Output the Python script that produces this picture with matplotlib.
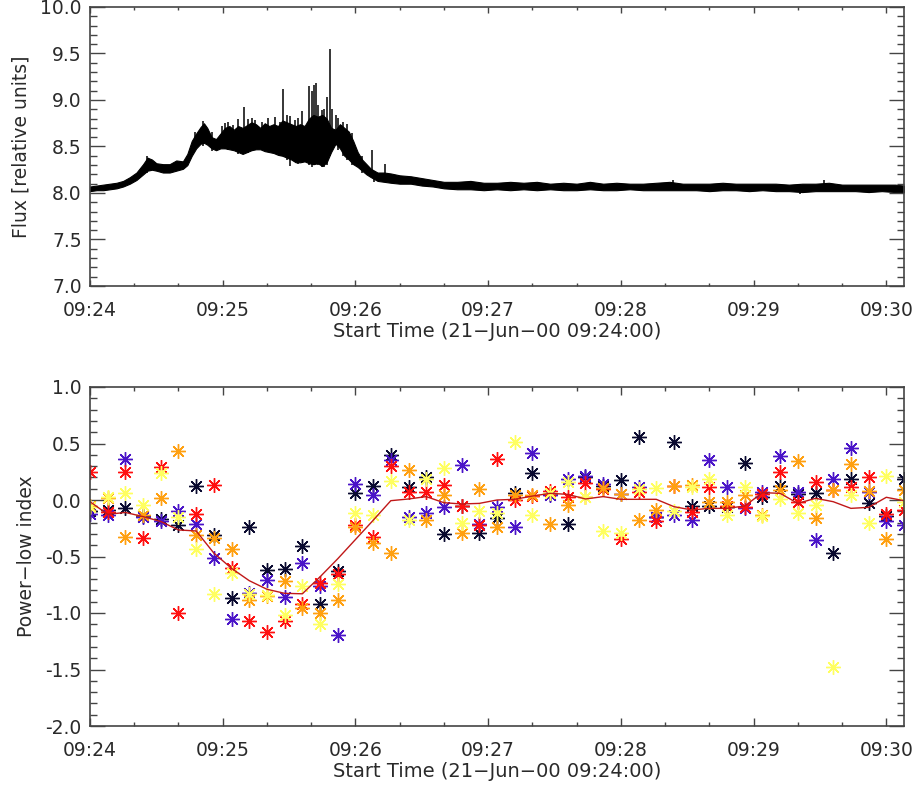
import matplotlib
matplotlib.use("Agg")
import matplotlib.pyplot as plt
from matplotlib.ticker import MultipleLocator, FixedLocator, FormatStrFormatter

# ---------------- Top panel: flux envelope ----------------
env_t = [0, 3, 6, 9, 12, 15, 18, 21, 24, 26, 28, 30, 33, 36, 39, 42, 44, 46, 48, 50,
         51.5, 53, 55, 57, 59, 61, 63, 65, 67, 69, 71, 73, 75, 77, 79, 81, 83, 85, 87,
         89, 91, 93, 95, 97, 99, 101, 103, 105, 107, 109, 111, 113, 115, 117, 119, 121,
         123, 125, 127, 130, 133, 136, 140, 145, 150, 155, 160, 166, 172, 178, 184, 190,
         196, 202, 208, 214, 220, 226, 232, 238, 244, 250, 256, 262, 268, 274, 280, 286,
         292, 298, 304, 310, 316, 322, 328, 334, 340, 346, 352, 358, 364, 368]
env_low = [8.02, 8.03, 8.03, 8.04, 8.05, 8.07, 8.10, 8.14, 8.20, 8.24, 8.25, 8.24, 8.22,
           8.22, 8.24, 8.26, 8.30, 8.40, 8.48, 8.53, 8.54, 8.52, 8.48, 8.46, 8.48, 8.48,
           8.47, 8.46, 8.44, 8.42, 8.44, 8.46, 8.47, 8.47, 8.45, 8.44, 8.43, 8.41, 8.40,
           8.38, 8.36, 8.33, 8.33, 8.34, 8.32, 8.31, 8.32, 8.29, 8.33, 8.44, 8.53, 8.48,
           8.40, 8.36, 8.31, 8.28, 8.24, 8.20, 8.17, 8.13, 8.12, 8.11, 8.10, 8.10, 8.08,
           8.07, 8.05, 8.04, 8.04, 8.03, 8.04, 8.03, 8.04, 8.03, 8.04, 8.03, 8.03, 8.04,
           8.03, 8.03, 8.04, 8.03, 8.03, 8.03, 8.03, 8.03, 8.02, 8.03, 8.03, 8.02, 8.03,
           8.02, 8.02, 8.01, 8.02, 8.02, 8.02, 8.02, 8.01, 8.02, 8.01, 8.01]
env_high = [8.07, 8.08, 8.09, 8.10, 8.11, 8.13, 8.17, 8.22, 8.31, 8.38, 8.36, 8.32, 8.31,
            8.31, 8.35, 8.34, 8.42, 8.56, 8.64, 8.71, 8.75, 8.70, 8.60, 8.58, 8.64, 8.70,
            8.72, 8.68, 8.72, 8.70, 8.73, 8.76, 8.74, 8.70, 8.75, 8.72, 8.74, 8.72, 8.78,
            8.76, 8.74, 8.72, 8.74, 8.72, 8.80, 8.84, 8.82, 8.84, 8.80, 8.70, 8.68, 8.74,
            8.70, 8.66, 8.56, 8.44, 8.36, 8.31, 8.26, 8.22, 8.22, 8.21, 8.19, 8.18, 8.16,
            8.14, 8.12, 8.12, 8.13, 8.11, 8.11, 8.12, 8.11, 8.12, 8.10, 8.11, 8.10, 8.12,
            8.10, 8.11, 8.10, 8.10, 8.11, 8.12, 8.10, 8.10, 8.10, 8.11, 8.10, 8.10, 8.10,
            8.10, 8.09, 8.10, 8.10, 8.11, 8.09, 8.09, 8.09, 8.09, 8.09, 8.08]

# narrow spikes (time [s], bottom, top)
spike_t = [25.6, 47.5, 51.2, 55.0, 59.5, 61.0, 62.5, 64.8, 67.0, 69.8, 71.5, 73.1, 74.6,
           77.6, 80.6, 83.6, 85.9, 87.4, 88.9, 90.4, 92.7, 94.2, 96.0, 97.2, 99.2, 100.2,
           101.4, 102.2, 103.2, 104.7, 105.9, 107.0, 108.5, 109.5, 111.0, 112.3, 114.5,
           116.0, 118.6, 123.0, 127.4, 128.5, 133.4, 263.6, 321.0, 332.0]
spike_lo = [8.22, 8.46, 8.50, 8.45, 8.48, 8.47, 8.46, 8.46, 8.42, 8.44, 8.43, 8.45, 8.46,
            8.46, 8.44, 8.43, 8.40, 8.40, 8.36, 8.29, 8.33, 8.31, 8.32, 8.34, 8.30, 8.28,
            8.30, 8.31, 8.30, 8.28, 8.28, 8.30, 8.40, 8.50, 8.52, 8.46, 8.40, 8.36, 8.30,
            8.22, 8.17, 8.12, 8.12, 8.06, 7.99, 8.06]
spike_hi = [8.40, 8.66, 8.77, 8.66, 8.72, 8.75, 8.76, 8.73, 8.80, 8.93, 8.80, 8.81, 8.78,
            8.76, 8.81, 8.82, 8.76, 9.12, 8.84, 8.83, 8.79, 8.81, 8.88, 8.68, 9.15, 9.10,
            9.16, 9.18, 8.95, 8.89, 8.90, 9.03, 9.55, 8.90, 8.84, 8.81, 8.76, 8.74, 8.65,
            8.40, 8.46, 8.24, 8.31, 8.14, 8.10, 8.14]

# ---------------- Bottom panel: power-law index ----------------
times = [0, 8, 16, 24, 32, 40, 48, 56, 64, 72, 80, 88, 96, 104, 112, 120, 128, 136,
         144, 152, 160, 168, 176, 184, 192, 200, 208, 216, 224, 232, 240, 248, 256,
         264, 272, 280, 288, 296, 304, 312, 320, 328, 336, 344, 352, 360, 368]
idx_black = [-0.10, -0.09, -0.07, -0.14, -0.17, -0.22, 0.12, -0.31, -0.87, -0.236, -0.62,
             -0.61, -0.404, -0.923, -0.625, 0.065, 0.124, 0.398, 0.112, 0.206, -0.30,
             -0.05, -0.295, -0.162, 0.065, 0.242, 0.05, -0.212, 0.20, 0.12, 0.177, 0.555,
             -0.15, 0.516, -0.053, -0.053, -0.06, 0.33, 0.03, 0.124, 0.05, 0.059, -0.472,
             0.183, -0.03, -0.14, 0.19]
idx_purple = [-0.12, -0.13, 0.36, -0.15, -0.19, -0.10, -0.21, -0.51, -1.056, -0.826,
              -0.708, -0.855, -0.555, -0.758, -1.195, 0.142, 0.044, 0.354, -0.153, -0.112,
              -0.059, 0.31, -0.212, -0.059, -0.236, 0.413, 0.04, 0.183, 0.212, 0.142, 0.05,
              0.118, -0.147, -0.133, -0.177, 0.354, 0.118, -0.074, 0.074, 0.39, 0.074,
              -0.354, 0.19, 0.463, 0.074, -0.19, -0.22]
idx_red = [0.25, -0.11, 0.25, -0.34, 0.29, -1.00, -0.12, 0.13, -0.605, -1.068, -1.165,
           -1.068, -0.92, -0.737, -0.655, -0.22, -0.325, 0.30, 0.074, 0.074, 0.133, -0.053,
           -0.22, 0.36, 0.0, 0.038, 0.08, 0.03, 0.147, 0.10, -0.348, 0.074, -0.19, 0.124,
           -0.103, 0.112, -0.053, -0.06, 0.05, 0.25, -0.015, 0.162, 0.088, 0.118, 0.20,
           -0.124, -0.088]
idx_orange = [-0.05, 0.015, -0.33, -0.13, 0.015, 0.43, -0.31, -0.34, -0.437, -0.885, -0.85,
              -0.717, -0.96, -1.003, -0.885, -0.236, -0.383, -0.472, 0.265, -0.177, 0.044,
              -0.29, 0.094, -0.236, 0.04, 0.04, -0.21, -0.044, 0.03, 0.103, 0.05, -0.177,
              -0.088, 0.124, 0.133, -0.02, -0.015, 0.044, -0.133, 0.088, 0.348, -0.162, 0.09,
              0.316, 0.08, -0.348, 0.088]
idx_yellow = [-0.06, 0.03, 0.06, -0.04, 0.24, -0.15, -0.43, -0.835, -0.65, -0.83, -0.84,
              -1.018, -0.758, -1.10, -0.743, -0.118, -0.133, 0.171, -0.177, 0.19, 0.28,
              -0.206, -0.094, -0.118, 0.51, -0.133, 0.06, 0.162, 0.024, -0.274, -0.295, 0.10,
              0.103, -0.10, 0.118, 0.19, -0.133, 0.118, -0.14, 0.006, -0.112, -0.044, -1.475,
              0.044, -0.206, 0.212, -0.015]
idx_mean = [-0.015, -0.127, -0.11, -0.147, -0.19, -0.265, -0.274, -0.47, -0.605, -0.714,
            -0.79, -0.826, -0.83, -0.68, -0.52, -0.35, -0.18, -0.006, 0.009, 0.03, -0.024,
            -0.035, -0.03, 0.0, 0.006, 0.035, 0.059, 0.05, 0.009, 0.03, 0.006, 0.006, 0.006,
            -0.059, -0.088, -0.074, -0.074, -0.053, 0.065, 0.059, -0.03, 0.015, -0.015,
            -0.074, -0.065, 0.024, -0.006]

tick_pos = [0, 60, 120, 180, 240, 300, 360]
tick_labels = ["09:24", "09:25", "09:26", "09:27", "09:28", "09:29", "09:30"]
xlabel = "Start Time (21\u2212Jun\u221200 09:24:00)"

TXT = "#2a2a2a"
AX = "#444444"
plt.rcParams['font.family'] = ['DejaVu Sans']

W, H = 921, 786
fig = plt.figure(figsize=(W / 100, H / 100), dpi=100)
L, R = 90, 904
ax1 = fig.add_axes([L / W, 1 - 286 / H, (R - L) / W, 279 / H])
ax2 = fig.add_axes([L / W, 1 - 726 / H, (R - L) / W, 339 / H])


def style(ax, ylo, yhi, ymaj, ymin, xmaj_len, ymaj_len):
    ax.set_xlim(0, 368)
    ax.set_ylim(ylo, yhi)
    ax.xaxis.set_major_locator(FixedLocator(tick_pos))
    ax.set_xticklabels(tick_labels)
    ax.xaxis.set_minor_locator(MultipleLocator(20))
    ax.yaxis.set_major_locator(MultipleLocator(ymaj))
    ax.yaxis.set_minor_locator(MultipleLocator(ymin))
    ax.yaxis.set_major_formatter(FormatStrFormatter('%.1f'))
    ax.tick_params(axis='both', which='both', direction='in', top=True, right=True,
                   colors=AX, labelcolor=TXT, labelsize=13.5, width=1)
    ax.tick_params(axis='x', which='major', length=xmaj_len, pad=11)
    ax.tick_params(axis='x', which='minor', length=xmaj_len / 2)
    ax.tick_params(axis='y', which='major', length=ymaj_len, pad=6)
    ax.tick_params(axis='y', which='minor', length=ymaj_len / 2)
    for s in ax.spines.values():
        s.set_color(AX)
        s.set_linewidth(1.2)
    ax.set_xlabel(xlabel, fontsize=14, color=TXT, labelpad=1)


# Top panel
ax1.fill_between(env_t, env_low, env_high, color='black', lw=0.8, edgecolor='black')
ax1.vlines(spike_t, spike_lo, spike_hi, color='black', lw=1.1)
style(ax1, 7.0, 10.0, 0.5, 0.1, 4.5, 10.5)
ax1.set_ylabel("Flux [relative units]", fontsize=13.5, color=TXT, labelpad=7)

# Bottom panel
series = [(idx_black, '#0a0a30'), (idx_purple, '#4a14c8'), (idx_red, '#ff1010'),
          (idx_orange, '#ffa010'), (idx_yellow, '#ffff60')]
for vals, col in series:
    ax2.plot(times, vals, linestyle='none', marker=(8, 2, 0), markersize=10.5,
             markeredgewidth=1.0, color=col)
ax2.plot(times, idx_mean, color='#c01818', lw=1.0)
style(ax2, -2.0, 1.0, 0.5, 0.1, 5.5, 10.5)
ax2.set_ylabel("Power\u2212low index", fontsize=13.5, color=TXT, labelpad=7)

fig.savefig("out.png", dpi=100)
